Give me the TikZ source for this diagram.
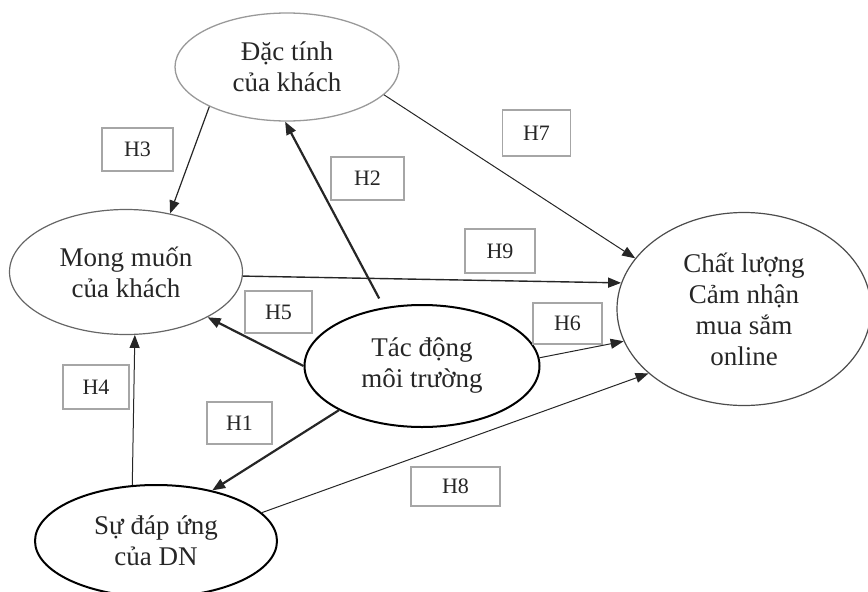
\documentclass[tikz,border=0pt]{standalone}
\usepackage{fontspec}
\setmainfont{Liberation Serif}
\usetikzlibrary{arrows.meta,shapes.geometric}

\tikzset{every picture/.style={line width=0.75pt}}
\tikzset{
  khoi/.style={ellipse, inner sep=0pt, align=center, text=black!85,
    font=\fontsize{27}{31}\selectfont},
  nhan/.style={draw=black!35, line width=1.6pt, inner sep=0pt, text=black!85,
    minimum width=68pt, minimum height=43pt, font=\fontsize{22}{26}\selectfont},
  mui/.style={-{Triangle[length=13pt,width=10pt]}, draw=black!85},
  manh/.style={mui, line width=2.2pt},
  mong/.style={mui, line width=1pt},
}

\begin{document}
\begin{tikzpicture}[
            x=1pt,
            y=1pt,
            yscale=-1,
            xscale=1,
            line width=0.75pt
        ]
            \useasboundingbox (0,0) rectangle (868,592);

            % cac khai niem
            \node [khoi, draw=black!40, line width=1.3pt, minimum width=224pt, minimum height=108pt] (dactinh) at (287,67) {Đặc tính\\của khách};
            \node [khoi, draw=black!60, line width=1.2pt, minimum width=233pt, minimum height=125pt] (mongmuon) at (126,272) {Mong muốn\\của khách};
            \node [khoi, draw=black, line width=2pt, minimum width=235pt, minimum height=122pt] (tacdong) at (422,366) {Tác động\\môi trường};
            \node [khoi, draw=black!70, line width=1.2pt, minimum width=254pt, minimum height=193pt] (chatluong) at (744,309) {Chất lượng\\Cảm nhận\\mua sắm\\online};
            \node [khoi, draw=black, line width=2pt, minimum width=242pt, minimum height=112pt] (sudapung) at (156,541) {Sự đáp ứng\\của DN};

            % cac gia thuyet
            \node [nhan, minimum width=71pt] (h3) at (137.5,149.5) {H3};
            \node [nhan, minimum width=73pt] (h2) at (367.5,178.5) {H2};
            \node [nhan, minimum height=46pt] (h7) at (536.5,133) {H7};
            \node [nhan, minimum width=70pt, minimum height=44pt] (h9) at (500,251) {H9};
            \node [nhan, minimum width=67pt, minimum height=42pt] (h5) at (278.5,312) {H5};
            \node [nhan, minimum width=69pt, minimum height=41pt] (h6) at (567.5,323.5) {H6};
            \node [nhan, minimum width=66pt, minimum height=44pt] (h4) at (96,387) {H4};
            \node [nhan, minimum width=65pt, minimum height=42pt] (h1) at (239.5,423) {H1};
            \node [nhan, minimum width=89pt, minimum height=39pt] (h8) at (455.5,486.5) {H8};

            % cac moi quan he
            \draw [mong, line width=1.2pt] (dactinh.207) -- (mongmuon.53);
            \draw [manh, shorten <=10pt] (tacdong.123) -- (dactinh.268);
            \draw [mong] (dactinh.344) -- (chatluong.155);
            \draw [mong, line width=1.4pt] (mongmuon.358) -- (chatluong.168);
            \draw [mong] (tacdong.4) -- (chatluong.195);
            \draw [manh] (tacdong.180) -- (mongmuon.331);
            \draw [manh] (tacdong.208) -- (sudapung.42);
            \draw [mong] (sudapung.113) -- (mongmuon.278);
            \draw [mong] (sudapung.15) -- (chatluong.214);
        \end{tikzpicture}
\end{document}
